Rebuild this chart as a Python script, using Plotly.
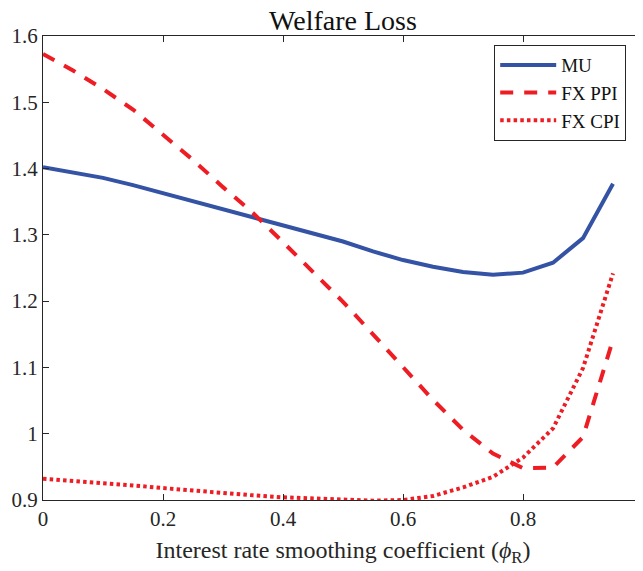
import plotly.graph_objects as go

# smoothing coefficient grid
phi_r = [0.0, 0.05, 0.1, 0.15, 0.2, 0.25, 0.3, 0.35, 0.4, 0.45,
         0.5, 0.55, 0.6, 0.65, 0.7, 0.75, 0.8, 0.85, 0.9, 0.95]

# welfare loss per regime
loss_mu = [1.402, 1.394, 1.386, 1.375, 1.363, 1.351, 1.339, 1.327, 1.315, 1.302,
           1.290, 1.275, 1.262, 1.252, 1.244, 1.240, 1.243, 1.258, 1.295, 1.377]
loss_fx_ppi = [1.573, 1.548, 1.520, 1.489, 1.451, 1.413, 1.372, 1.333, 1.289, 1.245,
               1.199, 1.150, 1.100, 1.051, 1.006, 0.970, 0.948, 0.949, 0.995, 1.142]
loss_fx_cpi = [0.932, 0.929, 0.926, 0.922, 0.918, 0.914, 0.911, 0.907, 0.904, 0.902,
               0.900, 0.899, 0.900, 0.906, 0.919, 0.935, 0.964, 1.008, 1.099, 1.242]

x_ticks = [0, 0.2, 0.4, 0.6, 0.8, 1]
y_ticks = [0.9, 1, 1.1, 1.2, 1.3, 1.4, 1.5, 1.6]

BLUE = "#3453A4"
RED = "#EE1D24"
INK = "#262626"
FONT = "Liberation Serif, Times New Roman, serif"

# the page body adds an 8px margin, so the figure is a bit smaller than the window
W, H = 635, 563

fig = go.Figure()
fig.add_trace(go.Scatter(x=phi_r, y=loss_mu, name="MU", mode="lines",
                         line=dict(color=BLUE, width=4)))
fig.add_trace(go.Scatter(x=phi_r, y=loss_fx_ppi, name="FX PPI", mode="lines",
                         line=dict(color=RED, width=4, dash="13px,11px")))
fig.add_trace(go.Scatter(x=phi_r, y=loss_fx_cpi, name="FX CPI", mode="lines",
                         line=dict(color=RED, width=4, dash="3.5px,3.2px")))

axis_style = dict(
    showline=True, linecolor=INK, linewidth=1, mirror="ticks",
    ticks="inside", ticklen=6, tickcolor=INK, tickwidth=1,
    showgrid=False, zeroline=False, automargin=False,
    tickfont=dict(family=FONT, size=21, color=INK),
)

fig.update_layout(
    width=W,
    height=H,
    template="plotly_white",
    plot_bgcolor="white",
    paper_bgcolor="white",
    margin=dict(l=35, r=0, t=28, b=71),
    title=dict(text="Welfare Loss", x=0.5, xref="paper", xanchor="center",
               y=1 - 12 / H, yref="container", yanchor="middle",
               font=dict(family=FONT, size=28, color="#111111")),
    xaxis=dict(range=[0, 1], tickvals=x_ticks, ticktext=["0", "0.2", "0.4", "0.6", "0.8", "1"],
               title=dict(text="Interest rate smoothing coefficient (<i>ϕ</i><sub>R</sub>)",
                          font=dict(family=FONT, size=24, color=INK), standoff=10),
               **axis_style),
    yaxis=dict(range=[0.9, 1.6], tickvals=y_ticks,
               ticktext=["0.9", "1", "1.1", "1.2", "1.3", "1.4", "1.5", "1.6"],
               **axis_style),
    legend=dict(x=0.972, y=0.877, xanchor="right", yanchor="middle",
                bgcolor="white", bordercolor=INK, borderwidth=1,
                font=dict(family=FONT, size=19, color="#111111"),
                itemwidth=56, tracegroupgap=0),
    showlegend=True,
)

fig.write_html("out.html")
